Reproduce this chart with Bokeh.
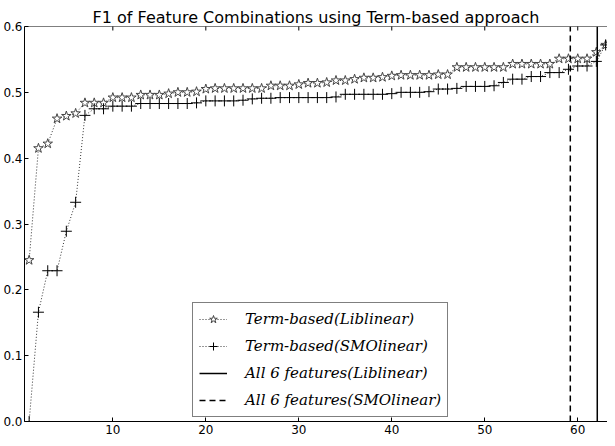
import math
from bokeh.plotting import figure
from bokeh.models import (Span, Legend, LegendItem, FixedTicker,
                          NumeralTickFormatter, Range1d)
from bokeh.embed import file_html
from bokeh.resources import INLINE

# ---- data ----
x_idx = list(range(1, 64))
f1_liblinear = [0.245, 0.415, 0.422, 0.460, 0.464, 0.468, 0.484, 0.484, 0.484, 0.492,
                0.492, 0.492, 0.496, 0.496, 0.496, 0.498, 0.500, 0.500, 0.501, 0.505,
                0.506, 0.506, 0.506, 0.506, 0.506, 0.506, 0.510, 0.510, 0.510, 0.512,
                0.514, 0.514, 0.515, 0.518, 0.518, 0.520, 0.522, 0.522, 0.523, 0.525,
                0.526, 0.526, 0.526, 0.526, 0.527, 0.527, 0.538, 0.538, 0.538, 0.538,
                0.538, 0.538, 0.543, 0.543, 0.543, 0.543, 0.543, 0.551, 0.551, 0.551,
                0.551, 0.561, 0.572]
f1_smolinear = [0.000, 0.166, 0.229, 0.229, 0.289, 0.333, 0.465, 0.475, 0.475, 0.479,
                0.479, 0.479, 0.483, 0.483, 0.483, 0.483, 0.483, 0.483, 0.484, 0.487,
                0.487, 0.487, 0.487, 0.488, 0.490, 0.491, 0.491, 0.492, 0.492, 0.492,
                0.492, 0.492, 0.492, 0.493, 0.497, 0.497, 0.497, 0.497, 0.497, 0.498,
                0.500, 0.500, 0.500, 0.501, 0.505, 0.505, 0.506, 0.509, 0.509, 0.509,
                0.510, 0.515, 0.520, 0.520, 0.524, 0.524, 0.530, 0.530, 0.535, 0.540,
                0.540, 0.547, 0.572]
all6_liblinear_x = 62.1
all6_smolinear_x = 59.2
x_ticks = [10, 20, 30, 40, 50, 60]
y_ticks = [0.0, 0.1, 0.2, 0.3, 0.4, 0.5, 0.6]
labels = ["Term-based(Liblinear)", "Term-based(SMOlinear)",
          "All 6 features(Liblinear)", "All 6 features(SMOlinear)"]

y_lo, y_hi = y_ticks[0], y_ticks[-1]

p = figure(width=607, height=438, output_backend="svg", toolbar_location=None,
           x_range=Range1d(0.5, 63.2), y_range=Range1d(y_lo, y_hi),
           min_border_left=21, min_border_right=0, min_border_top=26,
           min_border_bottom=17,
           title="F1 of Feature Combinations using Term-based approach")
p.outline_line_color = None
p.background_fill_color = "white"
p.border_fill_color = "white"
p.xgrid.grid_line_color = None
p.ygrid.grid_line_color = None

p.title.text_font = "DejaVu Sans"
p.title.text_font_size = "16px"
p.title.text_font_style = "normal"
p.title.align = "center"
p.title.standoff = 0
p.title.text_color = "black"

for ax in (p.xaxis[0], p.yaxis[0]):
    ax.major_tick_in = 4
    ax.major_tick_out = 0
    ax.minor_tick_line_color = None
    ax.axis_line_color = "black"
    ax.major_tick_line_color = "black"
    ax.major_label_text_font = "DejaVu Sans"
    ax.major_label_text_font_size = "12px"
    ax.major_label_text_color = "black"
p.xaxis.ticker = FixedTicker(ticks=x_ticks)
p.yaxis.ticker = FixedTicker(ticks=y_ticks)
p.yaxis.formatter = NumeralTickFormatter(format="0.0")
p.xaxis.major_label_standoff = 3
p.yaxis.major_label_standoff = 2

# top spine with inward ticks
p.add_layout(Span(location=y_hi, dimension="width", line_color="black", line_width=1))
p.scatter(x_ticks, [y_hi] * len(x_ticks), marker="dash", angle=math.pi / 2, size=8,
          line_color="black", line_width=1)

l1 = p.line(x_idx, f1_liblinear, line_dash="1 2", line_color="#333333", line_width=1)
s1 = p.scatter(x_idx, f1_liblinear, marker="star", size=10, fill_color="white",
               line_color="#444444", line_width=1)
l2 = p.line(x_idx, f1_smolinear, line_dash="1 2", line_color="#333333", line_width=1)
s2 = p.scatter(x_idx, f1_smolinear, marker="cross", size=11, line_color="black",
               line_width=1)

v1 = p.segment(x0=[all6_liblinear_x], y0=[y_lo], x1=[all6_liblinear_x], y1=[y_hi],
               line_color="black", line_width=1.5)
v2 = p.segment(x0=[all6_smolinear_x], y0=[y_lo], x1=[all6_smolinear_x], y1=[y_hi],
               line_color="black", line_width=1.5, line_dash="6 4")

legend = Legend(items=[LegendItem(label=labels[0], renderers=[l1, s1]),
                       LegendItem(label=labels[1], renderers=[l2, s2]),
                       LegendItem(label=labels[2], renderers=[v1]),
                       LegendItem(label=labels[3], renderers=[v2])],
                location=(168, 4))
legend.label_text_font = "DejaVu Serif"
legend.label_text_font_style = "italic"
legend.label_text_font_size = "15px"
legend.label_text_color = "black"
legend.border_line_color = "black"
legend.border_line_width = 1
legend.background_fill_alpha = 1.0
legend.padding = 6
legend.spacing = 7
legend.glyph_width = 28
legend.glyph_height = 20
legend.label_height = 20
legend.label_standoff = 18
legend.margin = 0
p.add_layout(legend)

open("out.html", "w").write(file_html(p, INLINE))
